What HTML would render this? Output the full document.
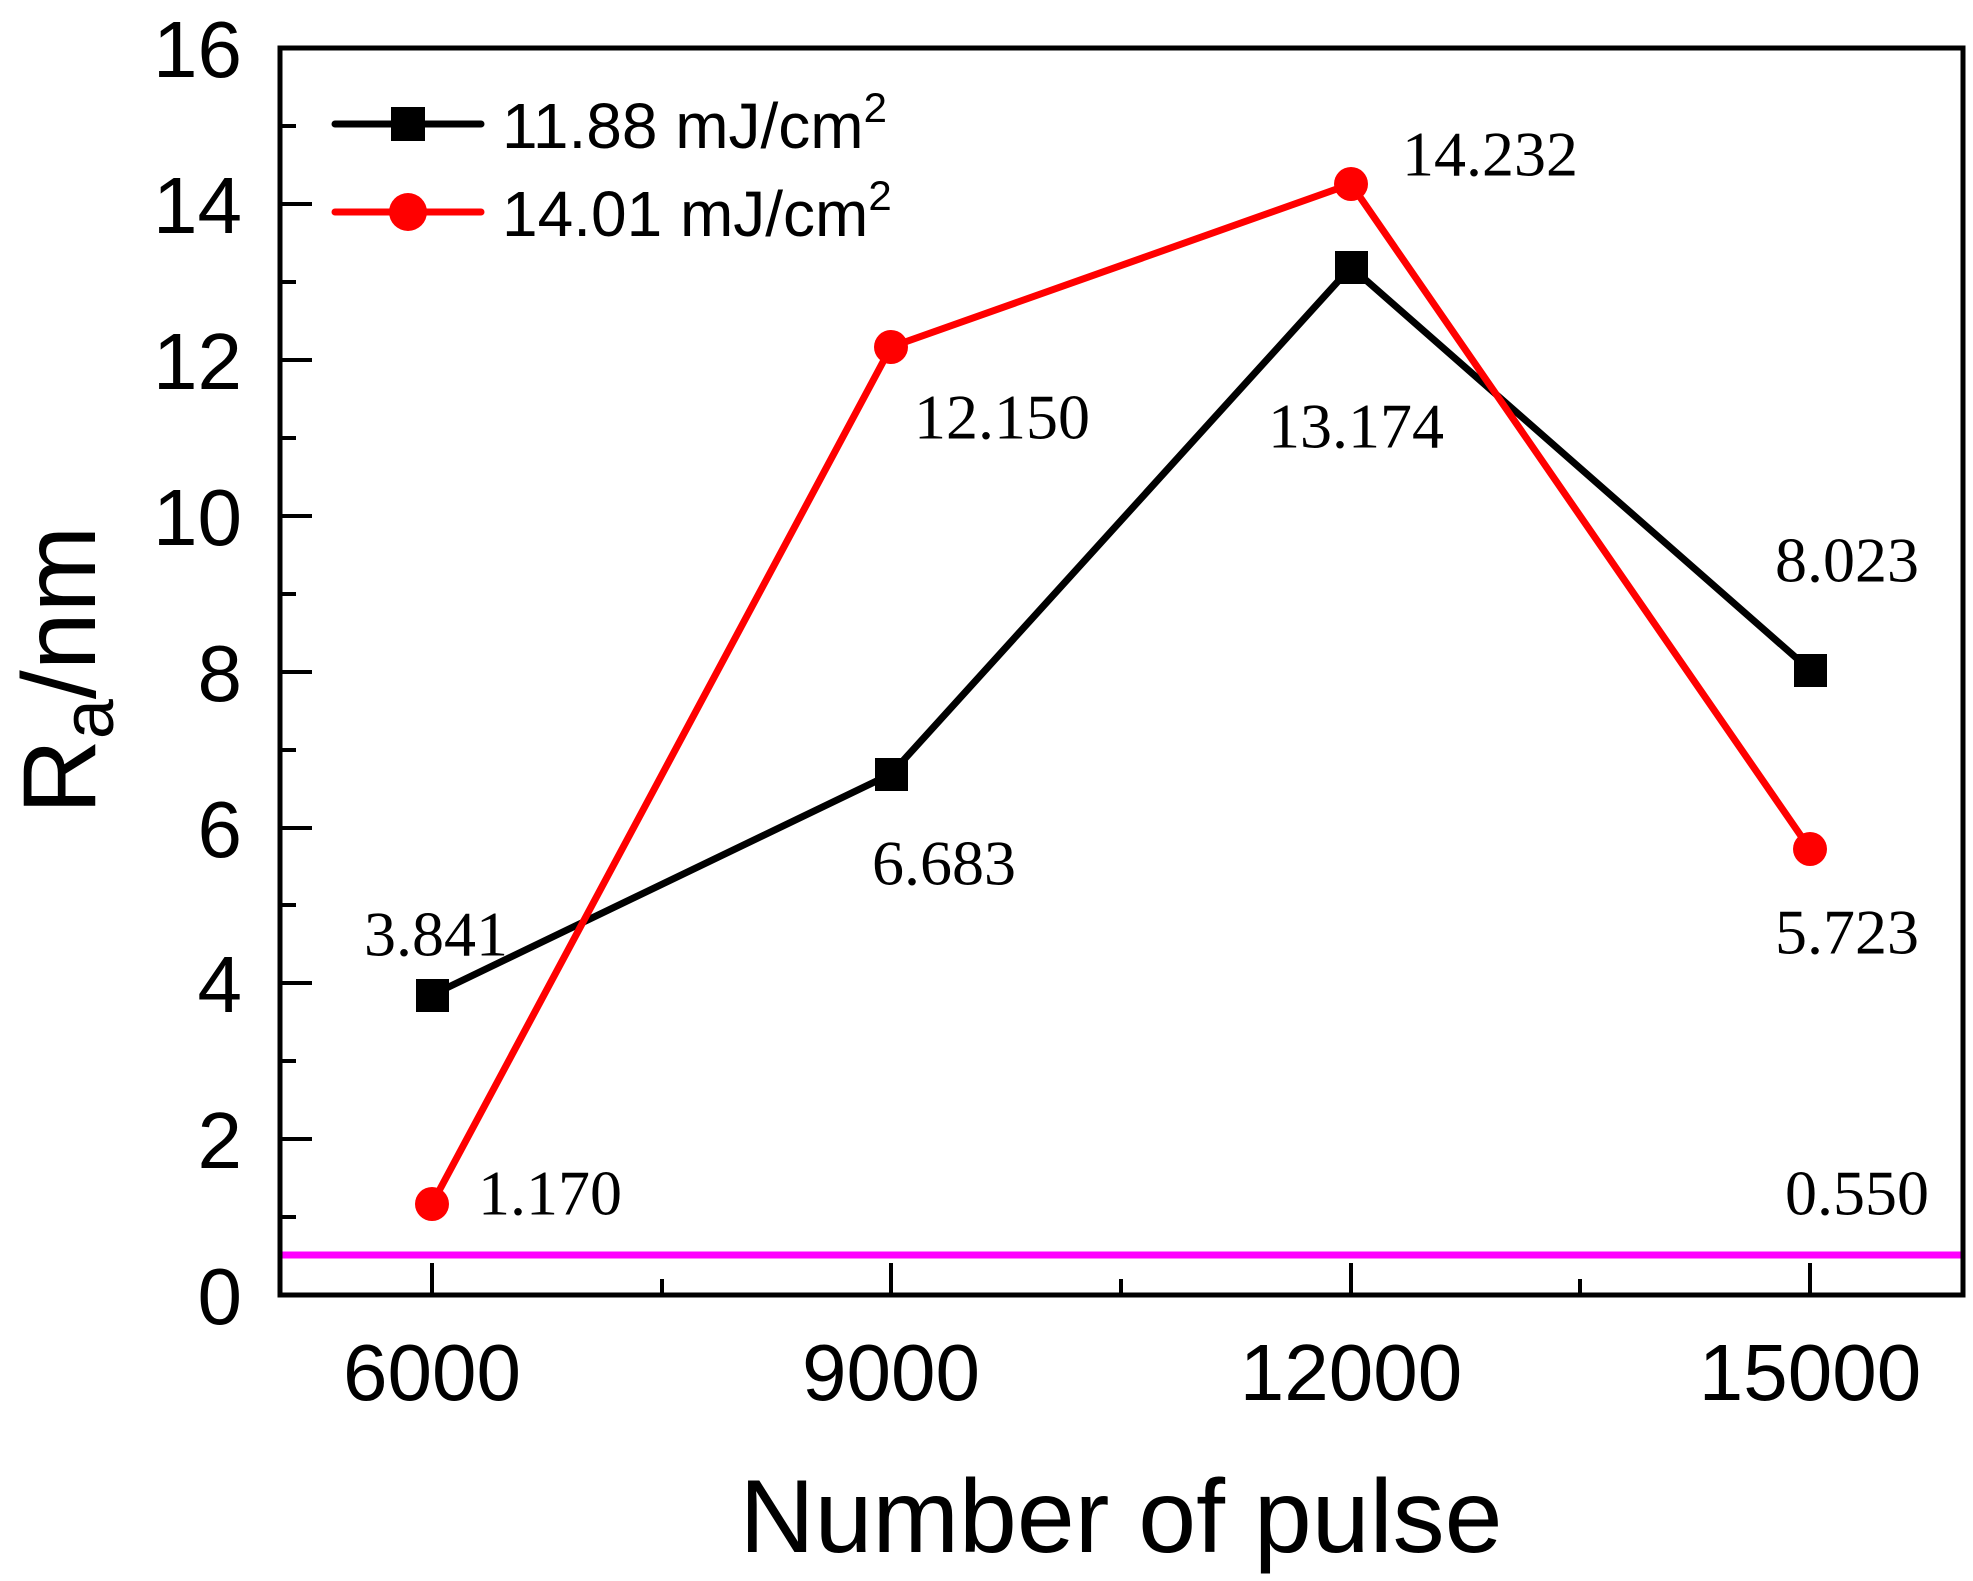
<!DOCTYPE html>
<html><head><meta charset="utf-8"><style>html,body{margin:0;padding:0;background:#fff}svg{display:block}</style></head>
<body>
<svg width="1973" height="1581" viewBox="0 0 1973 1581" xmlns="http://www.w3.org/2000/svg">
<rect width="1973" height="1581" fill="#fff"/>
<line x1="282" y1="1255" x2="1961" y2="1255" stroke="#ff00ff" stroke-width="7"/>
<rect x="280" y="48" width="1683" height="1247" fill="none" stroke="#000" stroke-width="5"/>
<g stroke="#000" stroke-width="4">
<line x1="280" y1="1295" x2="312" y2="1295"/><line x1="280" y1="1217" x2="296" y2="1217"/>
<line x1="280" y1="1139" x2="312" y2="1139"/><line x1="280" y1="1061" x2="296" y2="1061"/>
<line x1="280" y1="983" x2="312" y2="983"/><line x1="280" y1="905" x2="296" y2="905"/>
<line x1="280" y1="828" x2="312" y2="828"/><line x1="280" y1="750" x2="296" y2="750"/>
<line x1="280" y1="672" x2="312" y2="672"/><line x1="280" y1="594" x2="296" y2="594"/>
<line x1="280" y1="516" x2="312" y2="516"/><line x1="280" y1="438" x2="296" y2="438"/>
<line x1="280" y1="360" x2="312" y2="360"/><line x1="280" y1="282" x2="296" y2="282"/>
<line x1="280" y1="204" x2="312" y2="204"/><line x1="280" y1="126" x2="296" y2="126"/>
<line x1="432" y1="1295" x2="432" y2="1263"/><line x1="662" y1="1295" x2="662" y2="1279"/>
<line x1="891" y1="1295" x2="891" y2="1263"/><line x1="1121" y1="1295" x2="1121" y2="1279"/>
<line x1="1351" y1="1295" x2="1351" y2="1263"/><line x1="1580" y1="1295" x2="1580" y2="1279"/>
<line x1="1810" y1="1295" x2="1810" y2="1263"/>
</g>
<g font-family="Liberation Sans, sans-serif" font-size="80" fill="#000" text-anchor="end">
<text x="242" y="1324">0</text><text x="242" y="1168">2</text><text x="242" y="1012">4</text>
<text x="242" y="857">6</text><text x="242" y="701">8</text><text x="242" y="545">10</text>
<text x="242" y="389">12</text><text x="242" y="233">14</text><text x="242" y="77">16</text>
</g>
<g font-family="Liberation Sans, sans-serif" font-size="80" fill="#000" text-anchor="middle">
<text x="432" y="1400">6000</text><text x="891" y="1400">9000</text>
<text x="1351" y="1400">12000</text><text x="1810" y="1400">15000</text>
<text x="1121" y="1552" font-size="104">Number of pulse</text>
</g>
<text transform="translate(95,670) rotate(-90)" font-family="Liberation Sans, sans-serif" font-size="104" text-anchor="middle">R<tspan font-size="72" dy="18">a</tspan><tspan dy="-18">/nm</tspan></text>
<polyline points="432,995 891,774 1351,267 1810,670" fill="none" stroke="#000" stroke-width="7"/>
<polyline points="432,1204 891,347 1351,184 1810,849" fill="none" stroke="#ff0000" stroke-width="7"/>
<g fill="#000">
<rect x="416" y="979" width="33" height="33"/><rect x="875" y="758" width="33" height="33"/>
<rect x="1335" y="251" width="33" height="33"/><rect x="1794" y="654" width="33" height="33"/>
</g>
<g fill="#ff0000">
<circle cx="432" cy="1204" r="17"/><circle cx="891" cy="347" r="17"/>
<circle cx="1351" cy="184" r="17"/><circle cx="1810" cy="849" r="17"/>
</g>
<line x1="335" y1="124" x2="481" y2="124" stroke="#000" stroke-width="7" stroke-linecap="round"/>
<rect x="391" y="107" width="34" height="34" fill="#000"/>
<line x1="335" y1="212" x2="481" y2="212" stroke="#ff0000" stroke-width="7" stroke-linecap="round"/>
<circle cx="408" cy="212" r="19" fill="#ff0000"/>
<g font-family="Liberation Sans, sans-serif" font-size="64" fill="#000">
<text x="502" y="148">11.88 mJ/cm<tspan font-size="42" dy="-26">2</tspan></text>
<text x="502" y="236">14.01 mJ/cm<tspan font-size="42" dy="-26">2</tspan></text>
</g>
<g font-family="Liberation Serif, serif" font-size="64" fill="#000" text-anchor="middle" dominant-baseline="central">
<text x="436" y="934">3.841</text><text x="944" y="863">6.683</text>
<text x="1002" y="417">12.150</text><text x="1356" y="426">13.174</text>
<text x="1490" y="154">14.232</text><text x="1847" y="560">8.023</text>
<text x="1847" y="932">5.723</text><text x="550" y="1193">1.170</text>
<text x="1857" y="1193">0.550</text>
</g>
</svg>
</body></html>
